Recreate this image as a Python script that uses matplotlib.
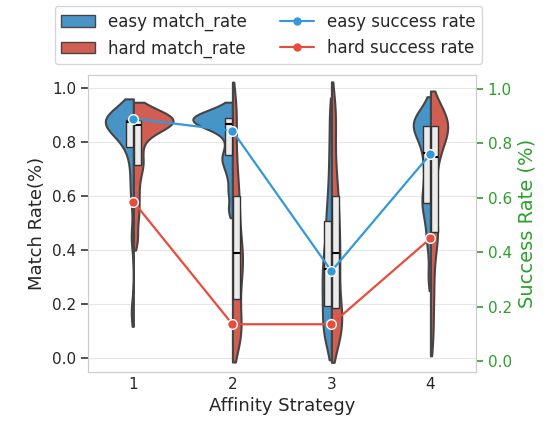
import numpy as np
import pandas as pd
import seaborn as sns
from matplotlib import pyplot as plt
from matplotlib.patches import Patch
from matplotlib.lines import Line2D

strategies = ["1", "2", "3", "4"]

# per-run match rates for each affinity strategy
easy_match_rate = [
    [0.17, 0.45, 0.60, 0.68, 0.76, 0.79, 0.82, 0.85, 0.86, 0.87,
     0.88, 0.88, 0.88, 0.88, 0.88, 0.885, 0.89, 0.89, 0.90, 0.91],
    [0.55, 0.62, 0.68, 0.72, 0.74, 0.76, 0.80, 0.84, 0.86, 0.87,
     0.87, 0.88, 0.88, 0.88, 0.89, 0.89, 0.90, 0.90, 0.91, 0.92],
    [0.06, 0.08, 0.11, 0.14, 0.17, 0.20, 0.23, 0.26, 0.29, 0.32,
     0.34, 0.37, 0.41, 0.45, 0.50, 0.54, 0.60, 0.68, 0.78, 0.90],
    [0.30, 0.42, 0.48, 0.54, 0.57, 0.58, 0.62, 0.66, 0.70, 0.74,
     0.78, 0.80, 0.84, 0.85, 0.86, 0.87, 0.88, 0.88, 0.89, 0.92],
]
hard_match_rate = [
    [0.44, 0.52, 0.58, 0.64, 0.70, 0.72, 0.76, 0.80, 0.84, 0.86,
     0.87, 0.88, 0.88, 0.88, 0.88, 0.885, 0.89, 0.89, 0.90, 0.91],
    [0.06, 0.07, 0.10, 0.14, 0.18, 0.235, 0.28, 0.32, 0.35, 0.38,
     0.40, 0.44, 0.49, 0.54, 0.59, 0.63, 0.70, 0.78, 0.88, 0.95],
    [0.06, 0.08, 0.11, 0.14, 0.17, 0.19, 0.24, 0.29, 0.33, 0.37,
     0.41, 0.45, 0.49, 0.54, 0.59, 0.63, 0.70, 0.79, 0.88, 0.95],
    [0.08, 0.20, 0.30, 0.40, 0.46, 0.47, 0.52, 0.60, 0.66, 0.72,
     0.77, 0.80, 0.84, 0.85, 0.86, 0.87, 0.88, 0.88, 0.89, 0.92],
]

easy_success_rate = [0.89, 0.845, 0.33, 0.76]
hard_success_rate = [0.585, 0.135, 0.135, 0.45]

blue = "#3498db"
red = "#e74c3c"

# long-form table for seaborn
rows = []
for s, vals in zip(strategies, easy_match_rate):
    rows += [(s, "easy", v) for v in vals]
for s, vals in zip(strategies, hard_match_rate):
    rows += [(s, "hard", v) for v in vals]
df = pd.DataFrame(rows, columns=["strategy", "level", "match_rate"])

sns.set_style("whitegrid")
fig, ax = plt.subplots(figsize=(5.49, 4.33), dpi=100)
fig.subplots_adjust(left=0.160, right=0.867, bottom=0.141, top=0.827)

sns.violinplot(data=df, x="strategy", y="match_rate", hue="level",
               hue_order=["easy", "hard"], order=strategies,
               palette={"easy": blue, "hard": red}, split=True,
               inner=None, cut=1, bw_adjust=0.5, linewidth=1.5,
               linecolor="#454545", legend=False, ax=ax)

# narrow quartile boxes on each half
pos = np.arange(len(strategies))
for data, offset in [(easy_match_rate, -0.04), (hard_match_rate, 0.04)]:
    ax.boxplot(data, positions=pos + offset, widths=0.07, whis=0,
               showcaps=False, showfliers=False, patch_artist=True,
               manage_ticks=False,
               boxprops=dict(facecolor="#ebebeb", edgecolor="#333333", linewidth=1),
               medianprops=dict(color="black", linewidth=1.5),
               whiskerprops=dict(linewidth=0), zorder=3)

ax.set_xlim(-0.46, 3.46)
ax.set_ylim(-0.05, 1.05)
ax.set_yticks(np.arange(0, 1.01, 0.2))
ax.set_xlabel("Affinity Strategy", fontsize=13)
ax.set_ylabel("Match Rate(%)", fontsize=13)
ax.tick_params(axis="x", labelsize=11, length=0)
ax.tick_params(axis="y", labelsize=11, left=True, length=5, width=1.2, color="#333333")
ax.grid(axis="x", visible=False)
ax.grid(axis="y", color="#e6e6e6")
for sp in ax.spines.values():
    sp.set_color("#cccccc")

# success rates on the right axis
ax2 = ax.twinx()
ax2.plot(pos, easy_success_rate, color=blue, marker="o", markersize=7,
         markeredgecolor="white", markeredgewidth=1, linewidth=1.6)
ax2.plot(pos, hard_success_rate, color=red, marker="o", markersize=7,
         markeredgecolor="white", markeredgewidth=1, linewidth=1.6)
ax2.set_ylim(-0.04, 1.05)
ax2.set_yticks(np.arange(0, 1.01, 0.2))
ax2.grid(False)
ax2.set_ylabel("Success Rate (%)", fontsize=14, color="tab:green")
ax2.tick_params(axis="y", labelsize=11, colors="tab:green", right=True, length=5, width=1.2)
for sp in ax2.spines.values():
    sp.set_color("#cccccc")

handles = [
    Patch(facecolor=sns.desaturate(blue, 0.75), edgecolor="#454545", label="easy match_rate"),
    Patch(facecolor=sns.desaturate(red, 0.75), edgecolor="#454545", label="hard match_rate"),
    Line2D([], [], color=blue, marker="o", markersize=5, label="easy success rate"),
    Line2D([], [], color=red, marker="o", markersize=5, label="hard success rate"),
]
ax.legend(handles=handles, ncol=2, fontsize=12, loc="upper center",
          bbox_to_anchor=(0.465, 1.26), columnspacing=2.0, handletextpad=0.8)

plt.savefig("out.png")
